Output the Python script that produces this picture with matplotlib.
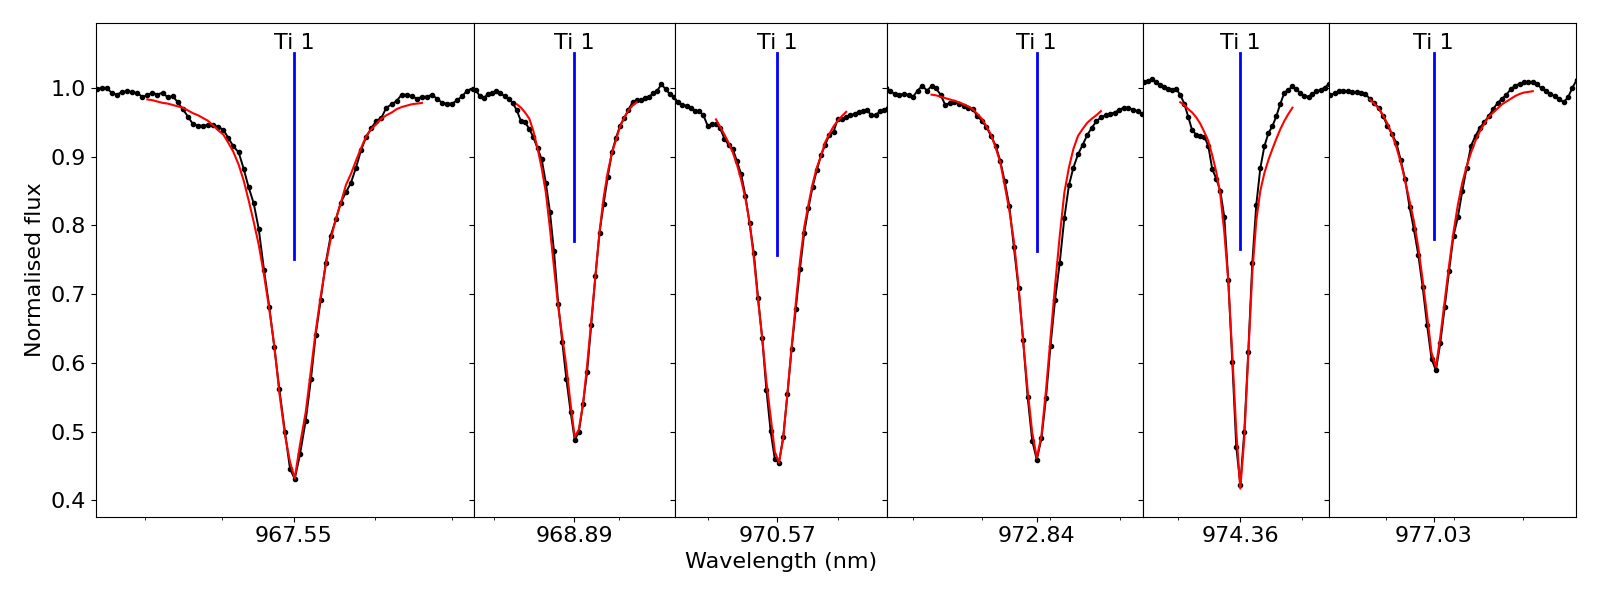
"""Ti 1 line profiles: observed spectrum, fitted profile and line marker per window."""

import matplotlib
matplotlib.use("Agg")
import matplotlib.pyplot as plt
import numpy as np
from matplotlib.ticker import FixedLocator

# ── Data ───────────────────────────────────────────────────────────────────────

# Labelled line centres (nm)
CENTRES = [967.55, 968.89, 970.57, 972.84, 974.36, 977.03]
CENTRE_LABELS = ["967.55", "968.89", "970.57", "972.84", "974.36", "977.03"]
LINE_NAME = "Ti 1"

# Offsets from the line centre (pm) and normalised flux of the observed spectrum
DWL_1 = [-202.3, -197.3, -192.3, -187.3, -182.0, -177.0, -172.0, -167.0, -162.0, -156.7,
         -151.7, -146.7, -141.7, -136.7, -131.3, -126.3, -121.3, -116.3, -111.3, -106.0,
         -101.0, -96.0, -91.0, -86.0, -80.7, -75.7, -70.7, -65.7, -60.7, -55.3,
         -50.3, -45.3, -40.3, -35.3, -30.0, -24.7, -19.7, -14.7, -9.0, -4.0,
         0.7, 6.0, 11.7, 17.0, 21.7, 26.7, 31.7, 36.7, 42.0, 46.7,
         52.0, 57.0, 62.0, 67.0, 72.3, 77.3, 82.3, 87.3, 92.3, 97.7,
         102.7, 107.7, 112.7, 117.7, 123.0, 128.0, 133.0, 138.0, 143.0, 148.3,
         153.3, 158.3, 163.3, 168.3, 173.3, 178.7, 183.7]
FLUX_1 = [0.998, 0.998, 1.000, 1.000, 0.992, 0.990, 0.994, 0.995, 0.994, 0.992,
          0.987, 0.989, 0.993, 0.990, 0.993, 0.986, 0.988, 0.979, 0.969, 0.958,
          0.947, 0.945, 0.945, 0.946, 0.946, 0.943, 0.939, 0.927, 0.915, 0.906,
          0.882, 0.855, 0.832, 0.795, 0.735, 0.681, 0.623, 0.562, 0.499, 0.446,
          0.431, 0.467, 0.516, 0.577, 0.641, 0.692, 0.745, 0.785, 0.809, 0.833,
          0.848, 0.862, 0.884, 0.909, 0.929, 0.941, 0.952, 0.956, 0.971, 0.976,
          0.981, 0.990, 0.990, 0.988, 0.984, 0.987, 0.987, 0.990, 0.984, 0.978,
          0.977, 0.977, 0.982, 0.988, 0.996, 0.998, 0.998]
FIT_START_1 = 11
FIT_1 = [0.983, 0.982, 0.980, 0.978, 0.977, 0.975, 0.973, 0.971, 0.967, 0.963,
         0.960, 0.956, 0.952, 0.945, 0.938, 0.932, 0.920, 0.907, 0.888, 0.865,
         0.836, 0.805, 0.772, 0.728, 0.678, 0.625, 0.557, 0.495, 0.456, 0.432,
         0.481, 0.528, 0.590, 0.646, 0.697, 0.742, 0.780, 0.810, 0.832, 0.859,
         0.875, 0.894, 0.912, 0.930, 0.940, 0.947, 0.955, 0.960, 0.964, 0.969,
         0.972, 0.974, 0.976, 0.977, 0.978]

DWL_2 = [-102.6, -98.4, -94.3, -90.2, -86.0, -81.9, -77.8, -73.6, -69.5, -65.4,
         -61.3, -57.1, -53.0, -48.9, -44.7, -40.6, -36.5, -32.3, -28.2, -24.1,
         -20.0, -15.8, -11.7, -7.6, -3.4, 0.7, 4.8, 9.0, 13.1, 17.2,
         21.4, 25.5, 29.6, 33.7, 37.9, 42.0, 46.1, 50.3, 54.4, 58.5,
         62.7, 66.8, 70.9, 75.0, 79.2, 83.3, 87.4, 91.6, 95.7, 99.8, 104.0]
FLUX_2 = [0.998, 0.997, 0.988, 0.985, 0.991, 0.992, 0.995, 0.992, 0.988, 0.984,
          0.978, 0.967, 0.951, 0.950, 0.940, 0.928, 0.912, 0.896, 0.862, 0.820,
          0.762, 0.686, 0.630, 0.576, 0.529, 0.488, 0.499, 0.540, 0.587, 0.655,
          0.726, 0.789, 0.831, 0.870, 0.906, 0.927, 0.945, 0.956, 0.968, 0.979,
          0.982, 0.982, 0.985, 0.987, 0.992, 0.996, 1.005, 0.998, 0.991, 0.986,
          0.982]
FIT_START_2 = 11
FIT_2 = [0.976, 0.971, 0.964, 0.955, 0.937, 0.912, 0.883, 0.848, 0.796, 0.739,
         0.682, 0.638, 0.594, 0.540, 0.492, 0.503, 0.540, 0.596, 0.660, 0.726,
         0.790, 0.840, 0.877, 0.905, 0.924, 0.944, 0.957, 0.967, 0.974, 0.979]

DWL_3 = [-103.3, -99.1, -94.9, -90.7, -86.5, -82.3, -78.1, -73.9, -69.7, -65.5,
         -61.3, -57.1, -52.9, -48.7, -44.5, -40.3, -36.1, -31.9, -27.7, -23.5,
         -19.3, -15.1, -10.9, -6.7, -2.5, 1.7, 5.9, 10.1, 14.3, 18.5,
         22.7, 26.9, 31.1, 35.3, 39.5, 43.7, 47.9, 52.1, 56.3, 60.5,
         64.7, 68.9, 73.1, 77.3, 81.5, 85.7, 89.9, 94.1, 98.3, 102.5,
         106.7, 110.9]
FLUX_3 = [0.982, 0.979, 0.975, 0.974, 0.971, 0.966, 0.966, 0.960, 0.945, 0.947,
          0.947, 0.941, 0.926, 0.917, 0.911, 0.893, 0.874, 0.843, 0.803, 0.760,
          0.695, 0.636, 0.561, 0.501, 0.460, 0.455, 0.492, 0.554, 0.620, 0.679,
          0.737, 0.789, 0.825, 0.856, 0.880, 0.902, 0.917, 0.932, 0.936, 0.955,
          0.955, 0.957, 0.960, 0.962, 0.965, 0.966, 0.967, 0.960, 0.960, 0.966,
          0.968, 0.971]
FIT_START_3 = 10
FIT_3 = [0.954, 0.943, 0.932, 0.920, 0.906, 0.888, 0.866, 0.839, 0.804, 0.753,
         0.692, 0.636, 0.573, 0.522, 0.471, 0.455, 0.490, 0.555, 0.623, 0.687,
         0.748, 0.797, 0.830, 0.860, 0.884, 0.901, 0.921, 0.933, 0.944, 0.952,
         0.959, 0.965]

DWL_4 = [-151.1, -146.6, -142.0, -137.4, -132.8, -128.2, -123.7, -119.1, -114.5, -109.9,
         -105.3, -100.8, -96.2, -91.6, -87.0, -82.4, -77.9, -73.3, -68.7, -64.1,
         -59.5, -55.0, -50.4, -45.8, -41.2, -36.6, -32.1, -27.5, -22.9, -18.3,
         -13.7, -9.2, -4.6, 0.0, 4.6, 9.2, 13.7, 18.3, 22.9, 27.5,
         32.1, 36.6, 41.2, 45.8, 50.4, 55.0, 59.5, 64.1, 68.7, 73.3,
         77.9, 82.4, 87.0, 91.6, 96.2, 100.8, 105.3, 109.9]
FLUX_4 = [1.000, 0.995, 0.991, 0.990, 0.991, 0.990, 0.987, 0.996, 1.003, 0.996,
          1.002, 0.999, 0.990, 0.975, 0.978, 0.979, 0.977, 0.974, 0.971, 0.969,
          0.959, 0.952, 0.943, 0.930, 0.916, 0.894, 0.864, 0.828, 0.768, 0.709,
          0.633, 0.551, 0.487, 0.459, 0.490, 0.549, 0.625, 0.692, 0.745, 0.810,
          0.858, 0.884, 0.903, 0.917, 0.931, 0.942, 0.951, 0.957, 0.960, 0.962,
          0.964, 0.968, 0.971, 0.971, 0.968, 0.966, 0.962, 0.960]
FIT_START_4 = 10
FIT_4 = [0.990, 0.989, 0.987, 0.985, 0.983, 0.981, 0.979, 0.976, 0.973, 0.969,
         0.962, 0.955, 0.944, 0.932, 0.913, 0.892, 0.858, 0.822, 0.777, 0.713,
         0.633, 0.561, 0.499, 0.462, 0.494, 0.560, 0.636, 0.713, 0.784, 0.847,
         0.884, 0.911, 0.930, 0.940, 0.949, 0.955, 0.960, 0.966]

DWL_5 = [-100.2, -96.2, -92.2, -88.2, -84.2, -80.2, -76.2, -72.2, -68.2, -64.1,
         -60.1, -56.1, -52.1, -48.1, -44.1, -40.1, -36.1, -32.1, -28.1, -24.1,
         -20.0, -16.0, -12.0, -8.0, -4.0, 0.0, 4.0, 8.0, 12.0, 16.0,
         20.0, 24.1, 28.1, 32.1, 36.1, 40.1, 44.1, 48.1, 52.1, 56.1,
         60.1, 64.1, 68.2, 72.2, 76.2, 80.2, 84.2, 88.2, 92.2]
FLUX_5 = [1.008, 1.008, 1.010, 1.013, 1.008, 1.004, 1.001, 0.998, 0.997, 0.998,
          0.990, 0.977, 0.958, 0.938, 0.932, 0.930, 0.929, 0.916, 0.882, 0.868,
          0.850, 0.812, 0.720, 0.601, 0.478, 0.423, 0.500, 0.616, 0.745, 0.830,
          0.883, 0.915, 0.934, 0.944, 0.959, 0.977, 0.993, 0.997, 1.002, 0.998,
          0.992, 0.988, 0.987, 0.991, 0.995, 0.997, 1.000, 1.005, 1.008]
FIT_START_5 = 10
FIT_5 = [0.979, 0.975, 0.969, 0.964, 0.957, 0.948, 0.936, 0.923, 0.902, 0.878,
         0.845, 0.790, 0.718, 0.612, 0.500, 0.417, 0.490, 0.612, 0.731, 0.807,
         0.850, 0.876, 0.895, 0.911, 0.926, 0.940, 0.952, 0.962, 0.971]

DWL_6 = [-107.9, -103.5, -99.1, -94.7, -90.3, -85.9, -81.5, -77.1, -72.7, -68.3,
         -63.9, -59.5, -55.1, -50.7, -46.3, -41.9, -37.4, -33.0, -28.6, -24.2,
         -19.8, -15.4, -11.0, -6.6, -2.2, 2.2, 6.6, 11.0, 15.4, 19.8,
         24.2, 28.6, 33.0, 37.4, 41.8, 46.3, 50.7, 55.1, 59.5, 63.9,
         68.3, 72.7, 77.1, 81.5, 85.9, 90.3, 94.7, 99.1, 103.5, 107.9,
         112.3, 116.7, 121.1, 125.5, 129.9, 134.3, 138.7, 143.2]
FLUX_6 = [0.988, 0.989, 0.992, 0.995, 0.996, 0.995, 0.994, 0.994, 0.992, 0.991,
          0.984, 0.978, 0.971, 0.959, 0.945, 0.933, 0.920, 0.895, 0.867, 0.827,
          0.794, 0.757, 0.710, 0.655, 0.606, 0.589, 0.629, 0.681, 0.734, 0.785,
          0.812, 0.850, 0.884, 0.916, 0.930, 0.942, 0.950, 0.959, 0.969, 0.978,
          0.984, 0.990, 0.998, 1.003, 1.006, 1.008, 1.008, 1.009, 1.005, 0.999,
          0.996, 0.991, 0.988, 0.984, 0.979, 0.986, 1.000, 1.012]
FIT_START_6 = 10
FIT_6 = [0.983, 0.977, 0.970, 0.960, 0.948, 0.933, 0.914, 0.892, 0.865, 0.836,
         0.806, 0.768, 0.720, 0.669, 0.615, 0.594, 0.638, 0.690, 0.742, 0.790,
         0.830, 0.862, 0.886, 0.906, 0.923, 0.937, 0.948, 0.958, 0.964, 0.970,
         0.976, 0.980, 0.984, 0.988, 0.991, 0.993, 0.994, 0.995]

# Line marker: from depth level up to a common top
MARKER_BOTTOM = [0.751, 0.777, 0.757, 0.763, 0.766, 0.780]
MARKER_TOP = 1.05

# Plot windows and unlabelled ticks (pm from centre)
WINDOWS = [(-198, 180), (-100, 101), (-102.3, 109.7),
           (-149.8, 106.2), (-97.3, 88.7), (-104.7, 142.3)]
MINOR_TICKS = [[-149, -72, 81, 158], [-80, 45], [-69, 61],
               [-124, -55, 13, 83], [-62, 62], [-48, 20, 89]]

PANELS = [
    (DWL_1, FLUX_1, FIT_START_1, FIT_1),
    (DWL_2, FLUX_2, FIT_START_2, FIT_2),
    (DWL_3, FLUX_3, FIT_START_3, FIT_3),
    (DWL_4, FLUX_4, FIT_START_4, FIT_4),
    (DWL_5, FLUX_5, FIT_START_5, FIT_5),
    (DWL_6, FLUX_6, FIT_START_6, FIT_6),
]

FS = 16


def main() -> None:
    spans = [hi - lo for lo, hi in WINDOWS]
    fig, axes = plt.subplots(
        1, len(PANELS), figsize=(16, 6), dpi=100, sharey=True,
        gridspec_kw={"width_ratios": spans},
    )
    fig.subplots_adjust(left=0.06, right=0.985, bottom=0.139, top=0.961, wspace=0)

    for i, ax in enumerate(axes):
        dwl, flux, start, fit = PANELS[i]
        assert len(dwl) == len(flux), i
        c = CENTRES[i]
        wl = c + np.asarray(dwl) / 1000.0

        ax.plot(wl, flux, color="black", lw=1.4, marker="o", markersize=3, zorder=2)
        ax.plot(wl[start:start + len(fit)], fit, color="red", lw=1.5, zorder=3)
        ax.plot([c, c], [MARKER_BOTTOM[i], MARKER_TOP], color="blue", lw=2, zorder=4)
        ax.text(c, MARKER_TOP, LINE_NAME, ha="center", va="bottom", fontsize=FS)

        lo, hi = WINDOWS[i]
        ax.set_xlim(c + lo / 1000.0, c + hi / 1000.0)
        ax.xaxis.set_major_locator(FixedLocator([c]))
        ax.set_xticklabels([CENTRE_LABELS[i]])
        ax.xaxis.set_minor_locator(FixedLocator([c + t / 1000.0 for t in MINOR_TICKS[i]]))
        ax.tick_params(axis="both", which="major", labelsize=FS)

    axes[0].set_ylim(0.3764, 1.0936)
    axes[0].set_yticks([0.4, 0.5, 0.6, 0.7, 0.8, 0.9, 1.0])
    axes[0].set_ylabel("Normalised flux", fontsize=FS)
    axes[2].set_xlabel("Wavelength (nm)", fontsize=FS)

    fig.savefig("out.png", dpi=100)
    plt.close(fig)


if __name__ == "__main__":
    main()
